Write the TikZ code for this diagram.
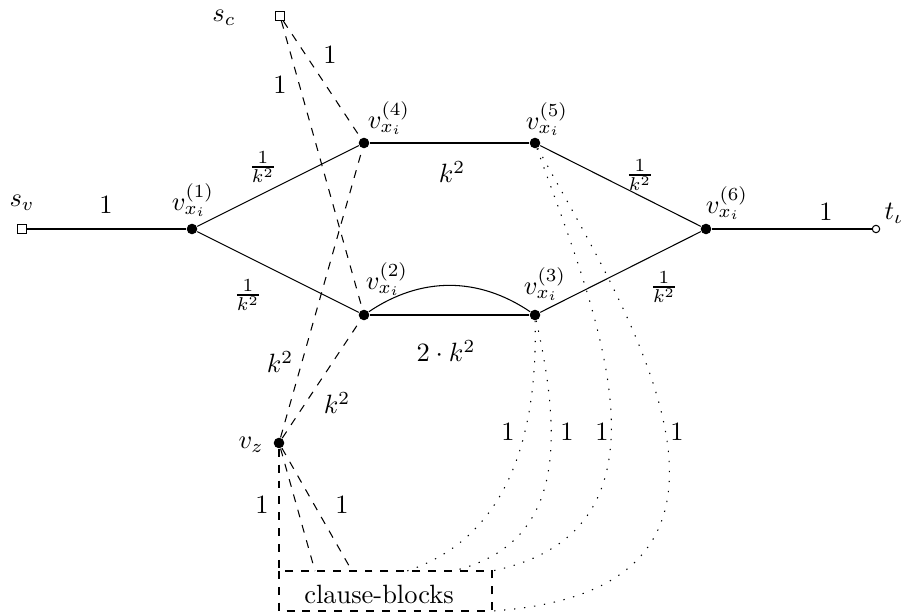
\documentclass[tikz,border=0pt]{standalone}
\begin{document}
\begin{tikzpicture}[x=0.01329cm, y=-0.01329cm,
  vtx/.style={circle, fill=black, inner sep=0pt, minimum size=4pt},
  src/.style={rectangle, draw, fill=white, inner sep=0pt, minimum size=3.4pt},
  snk/.style={circle, draw, fill=white, inner sep=0pt, minimum size=2.8pt},
  lbl/.style={inner sep=0pt},
  dsh/.style={dashed},
  dot/.style={dash pattern=on 0.5pt off 3.3pt},
]
\useasboundingbox (0,0) rectangle (903,614);

% vertices
\node[src] (sv) at (22,229) {};
\node[vtx] (v1) at (192,229) {};
\node[vtx] (v4) at (364,143) {};
\node[vtx] (v5) at (535,143) {};
\node[vtx] (v6) at (706,229) {};
\node[snk] (t)  at (876,229) {};
\node[vtx] (v2) at (364,315) {};
\node[vtx] (v3) at (535,315) {};
\node[src] (sc) at (280,16) {};
\node[vtx] (vz) at (279,443) {};

% clause-block box corners and attachment points
\coordinate (bTL) at (279,571);
\coordinate (bTR) at (492,571);
\coordinate (bBR) at (492,611);
\coordinate (bBL) at (279,611);
\coordinate (bM1) at (315,571);
\coordinate (bM2) at (352,571);
\coordinate (ca) at (407,571);
\coordinate (cb) at (453,571);

% vertex names
\node[lbl] (nsv) at (22,203) {$s_v$};
\node[lbl] (nsc) at (224,18) {$s_c$};
\node[lbl] (nt)  at (894,213) {$t_\iota$};
\node[lbl] (nvz) at (251,445) {$v_z$};
\node[lbl] (n1) at (193,200) {$v_{x_i}^{(1)}$};
\node[lbl] (n4) at (389,118) {$v_{x_i}^{(4)}$};
\node[lbl] (n5) at (547,119) {$v_{x_i}^{(5)}$};
\node[lbl] (n6) at (727,203) {$v_{x_i}^{(6)}$};
\node[lbl] (n2) at (387,279) {$v_{x_i}^{(2)}$};
\node[lbl] (n3) at (545,284) {$v_{x_i}^{(3)}$};

% solid edges
\draw (sv) -- (v1);
\draw (v1) -- (v4);
\draw (v1) -- (v2);
\draw (v4) -- (v5);
\draw (v5) -- (v6);
\draw (v3) -- (v6);
\draw (v6) -- (t);
\draw (v2) -- (v3);
\draw (v2) to[bend left=34] (v3);

% dashed edges
\draw[dsh] (sc) -- (v4);
\draw[dsh] (sc) -- (v2);
\draw[dsh] (vz) -- (v4);
\draw[dsh] (vz) -- (v2);
\draw[dsh] (vz) -- (bTL);
\draw[dsh] (vz) -- (bM1);
\draw[dsh] (vz) -- (bM2);
\draw[dsh] (bTL) rectangle (bBR);

% dotted edges into the clause blocks
\draw[dot] (v3) .. controls (538,450) and (500,540) .. (ca);
\draw[dot] (v3) .. controls (565,450) and (560,545) .. (cb);
\draw[dot] (v5) .. controls (595,310) and (690,530) .. (bTR);
\draw[dot] (v5) .. controls (620,300) and (810,590) .. (bBR);

\node[lbl] (cbtext) at (379,594) {clause-blocks};

% edge weights
\node[lbl] at (106,205) {$1$};
\node[lbl] at (263,167) {$\frac{1}{k^2}$};
\node[lbl] at (248,295) {$\frac{1}{k^2}$};
\node[lbl] at (452,172) {$k^2$};
\node[lbl] at (640,175) {$\frac{1}{k^2}$};
\node[lbl] at (664,287) {$\frac{1}{k^2}$};
\node[lbl] at (826,212) {$1$};
\node[lbl] at (446,351) {$2\cdot k^2$};
\node[lbl] at (330,55) {$1$};
\node[lbl] at (280,85) {$1$};
\node[lbl] at (280,362) {$k^2$};
\node[lbl] at (337,403) {$k^2$};
\node[lbl] at (262,505) {$1$};
\node[lbl] at (342,505) {$1$};
\node[lbl] at (508,432) {$1$};
\node[lbl] at (567,432) {$1$};
\node[lbl] at (602,432) {$1$};
\node[lbl] at (677,432) {$1$};
\end{tikzpicture}
\end{document}
